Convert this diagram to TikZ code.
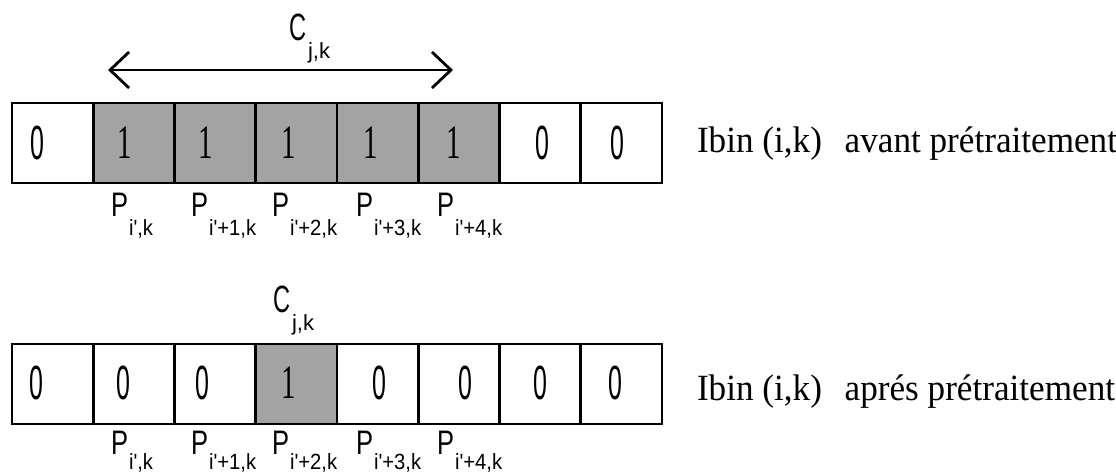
\documentclass[tikz,border=0pt]{standalone}
\usepackage{graphicx}
\usepackage{fontspec}
\setmainfont{Liberation Serif}
\newfontfamily\lsans{Liberation Sans}
\usetikzlibrary{arrows.meta}
\newcommand\dzero{\scalebox{0.52}[1]{\lsans\fontsize{48}{48}\selectfont 0}}
\newcommand\done{\scalebox{0.6}[1]{\fontsize{48}{48}\selectfont 1}}
\newcommand\plab[2]{\scalebox{0.75}[1]{\lsans\fontsize{34}{34}\selectfont P}\hspace{1pt}\raisebox{-#1}{\scalebox{0.92}[1]{\lsans\fontsize{22}{22}\selectfont #2}}}
\newcommand\clab{\scalebox{0.62}[1]{\lsans\fontsize{38}{38}\selectfont C}\hspace{2pt}\raisebox{-18pt}{\lsans\fontsize{22}{22}\selectfont j,k}}
\newcommand\sidetext[1]{\scalebox{0.95}[1]{\fontsize{37}{37}\selectfont #1}}
\begin{document}
\begin{tikzpicture}[x=1pt,y=-1pt,
  cell/.style={draw, line width=2.8pt, minimum width=81.25pt, minimum height=80pt, inner sep=0pt, outer sep=0pt},
  shadedcell/.style={cell, fill=black!36},
  txt/.style={inner sep=0pt, outer sep=0pt},
  plabel/.style={txt, anchor=north west},
  side/.style={txt, anchor=base west},
  barb/.style={line width=2.8pt, {Straight Barb[length=19pt,width=36pt,line width=2.8pt]}-{Straight Barb[length=19pt,width=36pt,line width=2.8pt]}}
]
\useasboundingbox (0,0) rectangle (1116,476);

% ---------- top row ----------
\node[cell] (a1) at (52.6,143) {};
\node[shadedcell] (a2) at (133.9,143) {};
\node[shadedcell] (a3) at (215.1,143) {};
\node[shadedcell] (a4) at (296.4,143) {};
\node[shadedcell] (a5) at (377.6,143) {};
\node[shadedcell] (a6) at (458.9,143) {};
\node[cell] (a7) at (540.1,143) {};
\node[cell] (a8) at (621.4,143) {};

\node[txt] (ad1) at (37,143) {\dzero};
\node[txt] (ad2) at (125,143) {\done};
\node[txt] (ad3) at (206,143) {\done};
\node[txt] (ad4) at (289,143) {\done};
\node[txt] (ad5) at (371,143) {\done};
\node[txt] (ad6) at (454,143) {\done};
\node[txt] (ad7) at (542,143) {\dzero};
\node[txt] (ad8) at (617,143) {\dzero};

\node[plabel] (ap1) at (111,193) {\plab{19pt}{i',k}};
\node[plabel] (ap2) at (191,193) {\plab{19pt}{i'+1,k}};
\node[plabel] (ap3) at (272,193) {\plab{19pt}{i'+2,k}};
\node[plabel] (ap4) at (356,193) {\plab{19pt}{i'+3,k}};
\node[plabel] (ap5) at (437,193) {\plab{19pt}{i'+4,k}};

\node[plabel] (ac) at (289,14) {\clab};
\coordinate (arl) at (108,70);
\coordinate (arr) at (453,70);
\draw[barb] (arl) -- (arr);

\node[side] (aside) at (697,153) {\sidetext{Ibin (i,k)\hspace{24pt}avant prétraitement}};

% ---------- bottom row ----------
\node[cell] (b1) at (52.6,384) {};
\node[cell] (b2) at (133.9,384) {};
\node[cell] (b3) at (215.1,384) {};
\node[shadedcell] (b4) at (296.4,384) {};
\node[cell] (b5) at (377.6,384) {};
\node[cell] (b6) at (458.9,384) {};
\node[cell] (b7) at (540.1,384) {};
\node[cell] (b8) at (621.4,384) {};

\node[txt] (bd1) at (36,383) {\dzero};
\node[txt] (bd2) at (123,383) {\dzero};
\node[txt] (bd3) at (202,383) {\dzero};
\node[txt] (bd4) at (289,383) {\done};
\node[txt] (bd5) at (379,383) {\dzero};
\node[txt] (bd6) at (465,383) {\dzero};
\node[txt] (bd7) at (540,383) {\dzero};
\node[txt] (bd8) at (615,383) {\dzero};

\node[plabel] (bp1) at (111,431) {\plab{15pt}{i',k}};
\node[plabel] (bp2) at (191,431) {\plab{15pt}{i'+1,k}};
\node[plabel] (bp3) at (272,431) {\plab{15pt}{i'+2,k}};
\node[plabel] (bp4) at (356,431) {\plab{15pt}{i'+3,k}};
\node[plabel] (bp5) at (437,431) {\plab{15pt}{i'+4,k}};

\node[plabel] (bc) at (273,286) {\clab};

\node[side] (bside) at (697,400) {\sidetext{Ibin (i,k)\hspace{24pt}aprés prétraitement}};
\end{tikzpicture}
\end{document}
